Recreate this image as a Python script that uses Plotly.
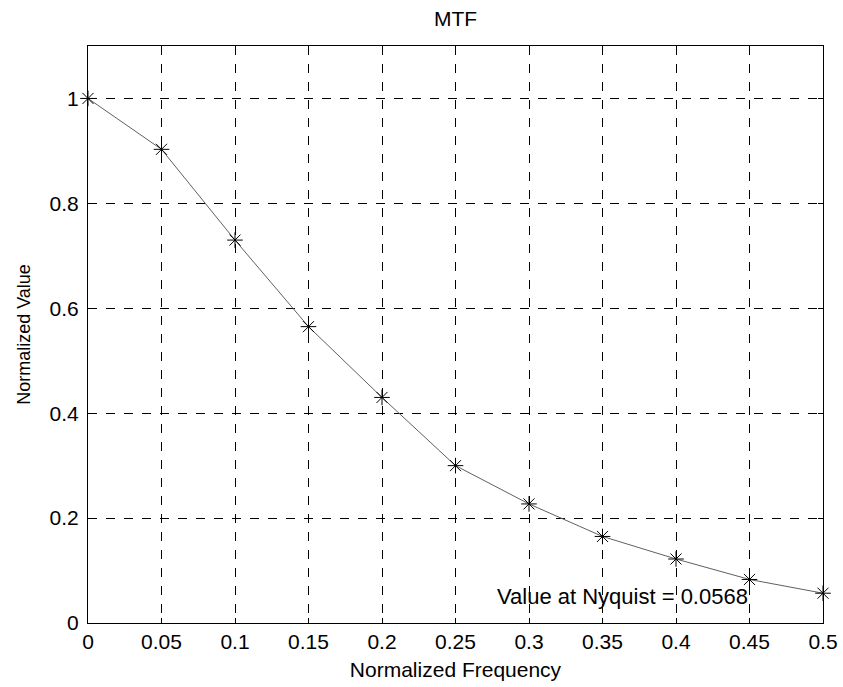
import plotly.graph_objects as go

freq = [0, 0.05, 0.1, 0.15, 0.2, 0.25, 0.3, 0.35, 0.4, 0.45, 0.5]
mtf = [1.0, 0.903, 0.730, 0.565, 0.430, 0.300, 0.227, 0.165, 0.122, 0.083, 0.0568]
x_ticks = [0, 0.05, 0.1, 0.15, 0.2, 0.25, 0.3, 0.35, 0.4, 0.45, 0.5]
x_labels = ["0", "0.05", "0.1", "0.15", "0.2", "0.25", "0.3", "0.35", "0.4", "0.45", "0.5"]
y_ticks = [0, 0.2, 0.4, 0.6, 0.8, 1.0]
y_labels = ["0", "0.2", "0.4", "0.6", "0.8", "1"]
nyquist_text = "Value at Nyquist = 0.0568"

font = "Liberation Sans, Arial, sans-serif"
FS = 21

fig = go.Figure()
fig.add_trace(go.Scatter(
    x=freq, y=mtf, mode="lines+markers",
    line=dict(color="#606060", width=1),
    marker=dict(symbol="asterisk-open", size=13, color="black", line=dict(color="black", width=1)),
    showlegend=False, cliponaxis=False,
))

axis_common = dict(
    showline=True, linecolor="black", linewidth=1, mirror="ticks",
    showgrid=True, gridcolor="black", griddash="dash", gridwidth=1,
    ticks="inside", ticklen=5, tickcolor="black",
    zeroline=False, tickfont=dict(size=FS, color="black", family=font),
    automargin=False,
)

fig.update_xaxes(range=[0, 0.5], tickvals=x_ticks, ticktext=x_labels,
                 title=dict(text="Normalized Frequency", font=dict(size=FS, color="black", family=font), standoff=10),
                 **axis_common)
fig.update_yaxes(range=[0, 1.1], tickvals=y_ticks, ticktext=y_labels,
                 ticklabelstandoff=4,
                 title=dict(text="Normalized Value", font=dict(size=FS - 3, color="black", family=font), standoff=14),
                 **axis_common)

fig.add_annotation(x=0.277, y=0.05, xref="x", yref="y", text=nyquist_text,
                   showarrow=False, xanchor="left", yanchor="middle",
                   font=dict(size=FS + 1, color="black", family=font))

fig.update_layout(
    width=843, height=687,
    margin=dict(l=88, r=20, t=46, b=64),
    paper_bgcolor="white", plot_bgcolor="white",
    title=dict(text="MTF", x=0.5, xref="paper", y=0.973, yanchor="middle",
               font=dict(size=FS, color="black", family=font)),
    font=dict(family=font, color="black"),
)

fig.write_html("out.html")
